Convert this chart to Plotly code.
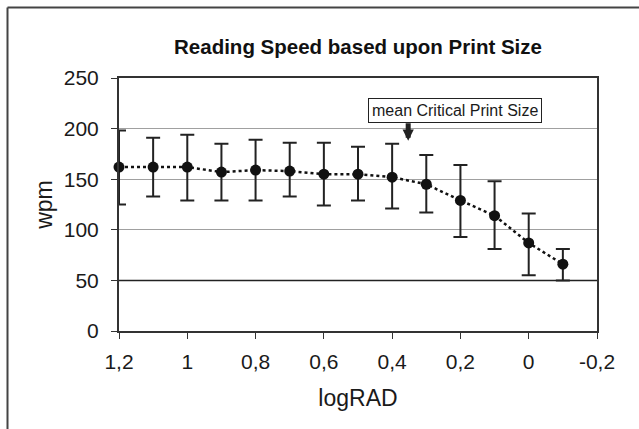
import plotly.graph_objects as go

# Data
log_rad = [1.2, 1.1, 1.0, 0.9, 0.8, 0.7, 0.6, 0.5, 0.4, 0.3, 0.2, 0.1, 0.0, -0.1]
wpm_mean = [162, 162, 162, 157, 159, 158, 155, 155, 152, 145, 129, 114, 87, 66]
wpm_upper = [198, 191, 194, 185, 189, 186, 186, 182, 185, 174, 164, 148, 116, 81]
wpm_lower = [125, 133, 129, 129, 129, 133, 124, 129, 121, 117, 93, 81, 55, 50]

x_tickvals = [1.2, 1.0, 0.8, 0.6, 0.4, 0.2, 0.0, -0.2]
x_ticktext = ["1,2", "1", "0,8", "0,6", "0,4", "0,2", "0", "-0,2"]
y_tickvals = [0, 50, 100, 150, 200, 250]

crit_x = 0.353
crit_y = 188

err_plus = [u - m for u, m in zip(wpm_upper, wpm_mean)]
err_minus = [m - l for m, l in zip(wpm_mean, wpm_lower)]

FONT = "Liberation Sans, Arial, Helvetica, sans-serif"

fig = go.Figure()
fig.add_trace(go.Scatter(
    x=log_rad, y=wpm_mean,
    mode="lines+markers",
    line=dict(color="#111111", width=2.5, dash="dot"),
    marker=dict(color="#111111", size=11),
    error_y=dict(type="data", symmetric=False, array=err_plus, arrayminus=err_minus,
                 color="#222222", thickness=2, width=7),
    cliponaxis=False,
    showlegend=False,
))

W, H = 639, 429
L, R, T, B = 119, 42, 78, 98
pw, ph = W - L - R, H - T - B

def px_to_paper(px, py):
    return (px - L) / pw, (H - B - py) / ph

x0, y0 = px_to_paper(7.5, 7.5)
x_right, _ = px_to_paper(640, 0)
_, y_bottom = px_to_paper(0, 430)

fig.update_layout(
    width=W, height=H,
    margin=dict(l=L, r=R, t=T, b=B),
    paper_bgcolor="white", plot_bgcolor="white",
    font=dict(family=FONT, color="#1a1a1a", size=21),
    title=dict(text="<b>Reading Speed based upon Print Size</b>",
               x=(L + pw / 2) / W, xanchor="center",
               y=1 - 47 / H, yanchor="middle",
               font=dict(size=20.5, color="#111111")),
    xaxis=dict(range=[1.2, -0.2], tickvals=x_tickvals, ticktext=x_ticktext,
               showgrid=False, zeroline=False,
               showline=True, linecolor="#333333", linewidth=2, mirror=True,
               ticks="outside", ticklen=6, tickcolor="#333333", tickwidth=1,
               ticklabelstandoff=5,
               title=dict(text="logRAD", standoff=18, font=dict(size=23))),
    yaxis=dict(range=[0, 250], tickvals=y_tickvals,
               showgrid=True, gridcolor="#a0a0a0", gridwidth=1.2,
               zeroline=False,
               showline=True, linecolor="#333333", linewidth=2, mirror=True,
               ticks="outside", ticklen=6, tickcolor="#333333", tickwidth=1,
               ticklabelstandoff=8,
               title=dict(text="wpm", standoff=5, font=dict(size=23))),
    shapes=[
        dict(type="line", xref="x", yref="y", x0=1.2, x1=-0.2, y0=50, y1=50,
             line=dict(color="#222222", width=1.5)),
        dict(type="line", xref="paper", yref="paper", x0=x0, x1=x_right, y0=y0, y1=y0,
             line=dict(color="#444444", width=2)),
        dict(type="line", xref="paper", yref="paper", x0=x0, x1=x0, y0=y0, y1=y_bottom,
             line=dict(color="#444444", width=2)),
    ],
    annotations=[
        dict(x=0.2163, y=217.5, xref="x", yref="y", text="mean Critical Print Size",
             showarrow=False, font=dict(size=16, color="#1a1a1a"),
             bordercolor="#222222", borderwidth=1, borderpad=3, bgcolor="white"),
        dict(x=crit_x, y=crit_y, xref="x", yref="y", text="", showarrow=True,
             ax=0, ay=-19, arrowhead=2, arrowsize=0.45, arrowwidth=5,
             arrowcolor="#222222"),
    ],
)

fig.write_html("out.html", config={"displayModeBar": False},
               post_script="document.body.style.margin='0px';")
